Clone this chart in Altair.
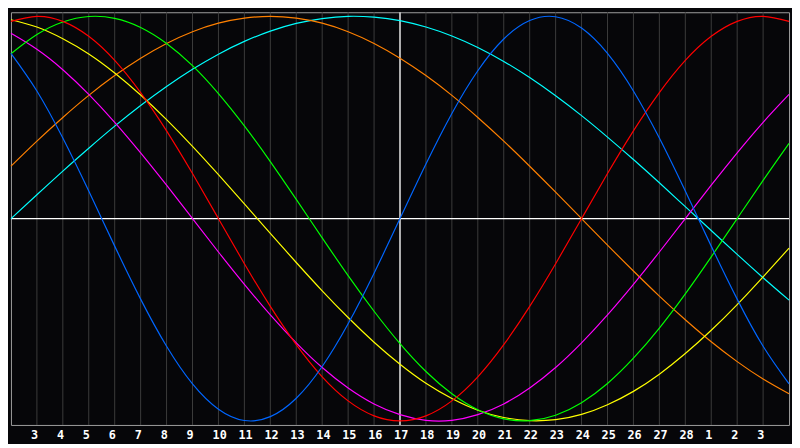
import altair as alt
import pandas as pd

# day index along the x axis (0 .. 30), gridlines at 1 .. 29
day_index = list(range(31))
tick_index = list(range(1, 30))
tick_labels = ["3", "4", "5", "6", "7", "8", "9", "10", "11", "12", "13", "14",
               "15", "16", "17", "18", "19", "20", "21", "22", "23", "24", "25",
               "26", "27", "28", "1", "2", "3"]
today_index = 15

# curve values (one per day index)
blue = [0.817, 0.631, 0.398, 0.136, -0.136, -0.398, -0.631, -0.817, -0.942, -0.998,
        -0.979, -0.888, -0.731, -0.520, -0.270, 0.0, 0.270, 0.520, 0.731, 0.888,
        0.979, 0.998, 0.942, 0.817, 0.631, 0.398, 0.136, -0.136, -0.398, -0.631, -0.817]
red = [0.975, 1.0, 0.975, 0.901, 0.782, 0.623, 0.434, 0.223, 0.0, -0.223,
       -0.434, -0.623, -0.782, -0.901, -0.975, -1.0, -0.975, -0.901, -0.782, -0.623,
       -0.434, -0.223, 0.0, 0.223, 0.434, 0.623, 0.782, 0.901, 0.975, 1.0, 0.975]
green = [0.815, 0.910, 0.972, 0.999, 0.990, 0.945, 0.866, 0.756, 0.618, 0.458,
         0.282, 0.095, -0.095, -0.282, -0.458, -0.618, -0.756, -0.866, -0.945, -0.990,
         -0.999, -0.972, -0.910, -0.815, -0.690, -0.541, -0.372, -0.189, 0.0, 0.189, 0.372]
magenta = [0.916, 0.837, 0.736, 0.614, 0.476, 0.325, 0.165, 0.0, -0.165, -0.325,
           -0.476, -0.614, -0.736, -0.837, -0.916, -0.969, -0.997, -0.997, -0.969, -0.916,
           -0.837, -0.736, -0.614, -0.476, -0.325, -0.165, 0.0, 0.165, 0.325, 0.476, 0.614]
yellow = [0.983, 0.947, 0.889, 0.814, 0.720, 0.611, 0.489, 0.357, 0.217, 0.073,
          -0.073, -0.217, -0.357, -0.489, -0.611, -0.720, -0.814, -0.889, -0.947, -0.983,
          -0.999, -0.994, -0.968, -0.920, -0.854, -0.769, -0.667, -0.552, -0.425, -0.288, -0.146]
orange = [0.259, 0.383, 0.500, 0.609, 0.707, 0.793, 0.866, 0.924, 0.966, 0.991,
          1.0, 0.991, 0.966, 0.924, 0.866, 0.793, 0.707, 0.609, 0.500, 0.383,
          0.259, 0.131, 0.0, -0.131, -0.259, -0.383, -0.500, -0.609, -0.707, -0.793, -0.866]
cyan = [0.0, 0.118, 0.235, 0.348, 0.457, 0.559, 0.653, 0.738, 0.813, 0.876,
        0.927, 0.965, 0.989, 1.0, 0.996, 0.979, 0.947, 0.903, 0.846, 0.777,
        0.697, 0.607, 0.509, 0.403, 0.292, 0.177, 0.059, -0.059, -0.177, -0.292, -0.403]

series_names = ["cyan", "orange", "yellow", "magenta", "green", "red", "blue"]
series_values = [cyan, orange, yellow, magenta, green, red, blue]
series_colors = ["#00ffff", "#ff8000", "#ffff00", "#ff00ff", "#00ff00", "#ff0000", "#0066ff"]

rows = []
for name, vals in zip(series_names, series_values):
    for i, v in zip(day_index, vals):
        rows.append({"i": i, "v": v, "s": name})
df = pd.DataFrame(rows)
df_ticks = pd.DataFrame({"i": tick_index, "t": tick_labels})

PLOT_W = 790
PLOT_H = 419

x_enc = alt.X("i:Q", scale=alt.Scale(domain=[0, 30], nice=False), axis=None)
y_enc = alt.Y("v:Q", scale=alt.Scale(domain=[-1.02, 1.02], nice=False), axis=None)

grid = alt.Chart(df_ticks).mark_rule(color="#3c3c3c", strokeWidth=1).encode(
    x=alt.X("i:Q", axis=None)
)

hrule = alt.Chart(pd.DataFrame({"v": [0.0]})).mark_rule(color="#ffffff", strokeWidth=1.3).encode(
    y=alt.Y("v:Q", axis=None)
)
vrule = alt.Chart(pd.DataFrame({"i": [today_index]})).mark_rule(color="#ffffff", strokeWidth=1.3).encode(
    x=alt.X("i:Q", axis=None)
)

lines = alt.Chart(df).mark_line(strokeWidth=1.2, interpolate="natural").encode(
    x=x_enc,
    y=y_enc,
    color=alt.Color("s:N", scale=alt.Scale(domain=series_names, range=series_colors), legend=None),
)

labels = alt.Chart(df_ticks).mark_text(
    align="left", baseline="top", dx=-6, font="DejaVu Sans Mono", fontSize=12,
    fontWeight="bold", color="#ffffff",
).encode(x=alt.X("i:Q", axis=None), y=alt.value(PLOT_H + 5), text="t:N")

chart = alt.layer(grid, hrule, vrule, lines, labels).properties(
    width=PLOT_W, height=PLOT_H
).configure(
    background="#060609", padding=0
).configure_view(stroke="#a0a0a0", strokeWidth=1)

chart.save("out.html", embed_options={"renderer": "svg", "actions": False})
